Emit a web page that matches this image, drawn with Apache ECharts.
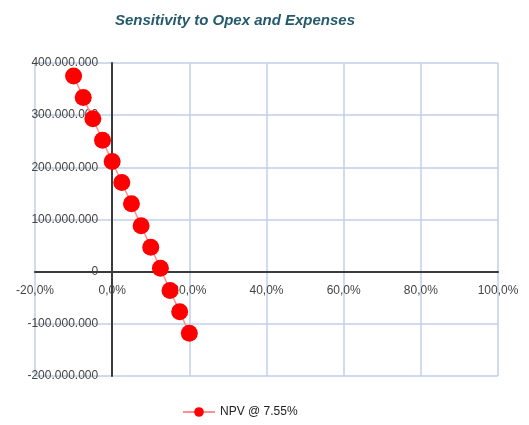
<!DOCTYPE html>
<html>
<head>
<meta charset="utf-8">
<script src="https://cdn.jsdelivr.net/npm/echarts@6/dist/echarts.min.js"></script>
<style>html,body{margin:0;padding:0;background:#fff;}#c{width:529px;height:425px;}</style>
</head>
<body>
<div id="c"></div>
<script>
var opexChange = [-10, -7.5, -5, -2.5, 0, 2.5, 5, 7.5, 10, 12.5, 15, 17.5, 20];
var npvValues = [375e6, 334e6, 293e6, 252e6, 211e6, 171e6, 130e6, 88e6, 47e6, 6.5e6, -36e6, -77e6, -118e6];
var seriesName = 'NPV @ 7.55%';
var titleText = 'Sensitivity to Opex and Expenses';

function fmtY(v){
  if (v === 0) return '0';
  var s = Math.abs(v).toFixed(0).replace(/\B(?=(\d{3})+(?!\d))/g, '.');
  return (v < 0 ? '-' : '') + s;
}
function fmtX(v){
  return v.toFixed(1).replace('.', ',') + '%';
}
var pts = opexChange.map(function(x, i){ return [x, npvValues[i]]; });

var G = {left: 35, right: 31, top: 63, bottom: 49};
var chart = echarts.init(document.getElementById('c'));
chart.setOption({
  animation: false,
  title: {
    text: titleText, left: 230, top: 8, textAlign: 'center',
    textStyle: {fontFamily: 'Liberation Sans, Arial', fontSize: 15, fontWeight: 'bold', fontStyle: 'italic', color: '#245a6b'}
  },
  legend: {
    bottom: 2, left: 177, itemWidth: 32, itemHeight: 12, itemGap: 6,
    textStyle: {fontFamily: 'Liberation Sans, Arial', fontSize: 12, color: '#222'},
    data: [seriesName]
  },
  grid: {left: G.left, right: G.right, top: G.top, bottom: G.bottom, containLabel: false, outerBoundsMode: 'none'},
  xAxis: {
    type: 'value', min: -20, max: 100, interval: 20,
    axisLine: {onZero: false, lineStyle: {color: '#3a3a3a', width: 2}},
    axisTick: {show: false},
    axisLabel: {formatter: fmtX, margin: 13, fontFamily: 'Liberation Sans, Arial', fontSize: 12, color: '#444'},
    splitLine: {show: true, lineStyle: {color: '#c0d0e8', width: 1.5}}
  },
  yAxis: {
    type: 'value', min: -200e6, max: 400e6, interval: 100e6,
    axisLine: {onZero: false, lineStyle: {color: '#3a3a3a', width: 2}},
    axisTick: {show: false},
    axisLabel: {formatter: fmtY, margin: 14, fontFamily: 'Liberation Sans, Arial', fontSize: 12, color: '#444'},
    splitLine: {show: true, lineStyle: {color: '#c0d0e8', width: 1.5}}
  },
  series: [{
    name: seriesName, type: 'line', data: pts,
    symbol: 'circle', symbolSize: 17,
    lineStyle: {color: '#ff9090', width: 1.5},
    itemStyle: {color: '#ff0000'}
  }]
});
// move both axes (line + labels) onto the zero lines, using the library's scales
var zero = chart.convertToPixel({gridIndex: 0}, [0, 0]);
var H = 425;
chart.setOption({
  xAxis: {offset: -((H - G.bottom) - zero[1])},
  yAxis: {offset: -(zero[0] - G.left)}
});
</script>
</body>
</html>
